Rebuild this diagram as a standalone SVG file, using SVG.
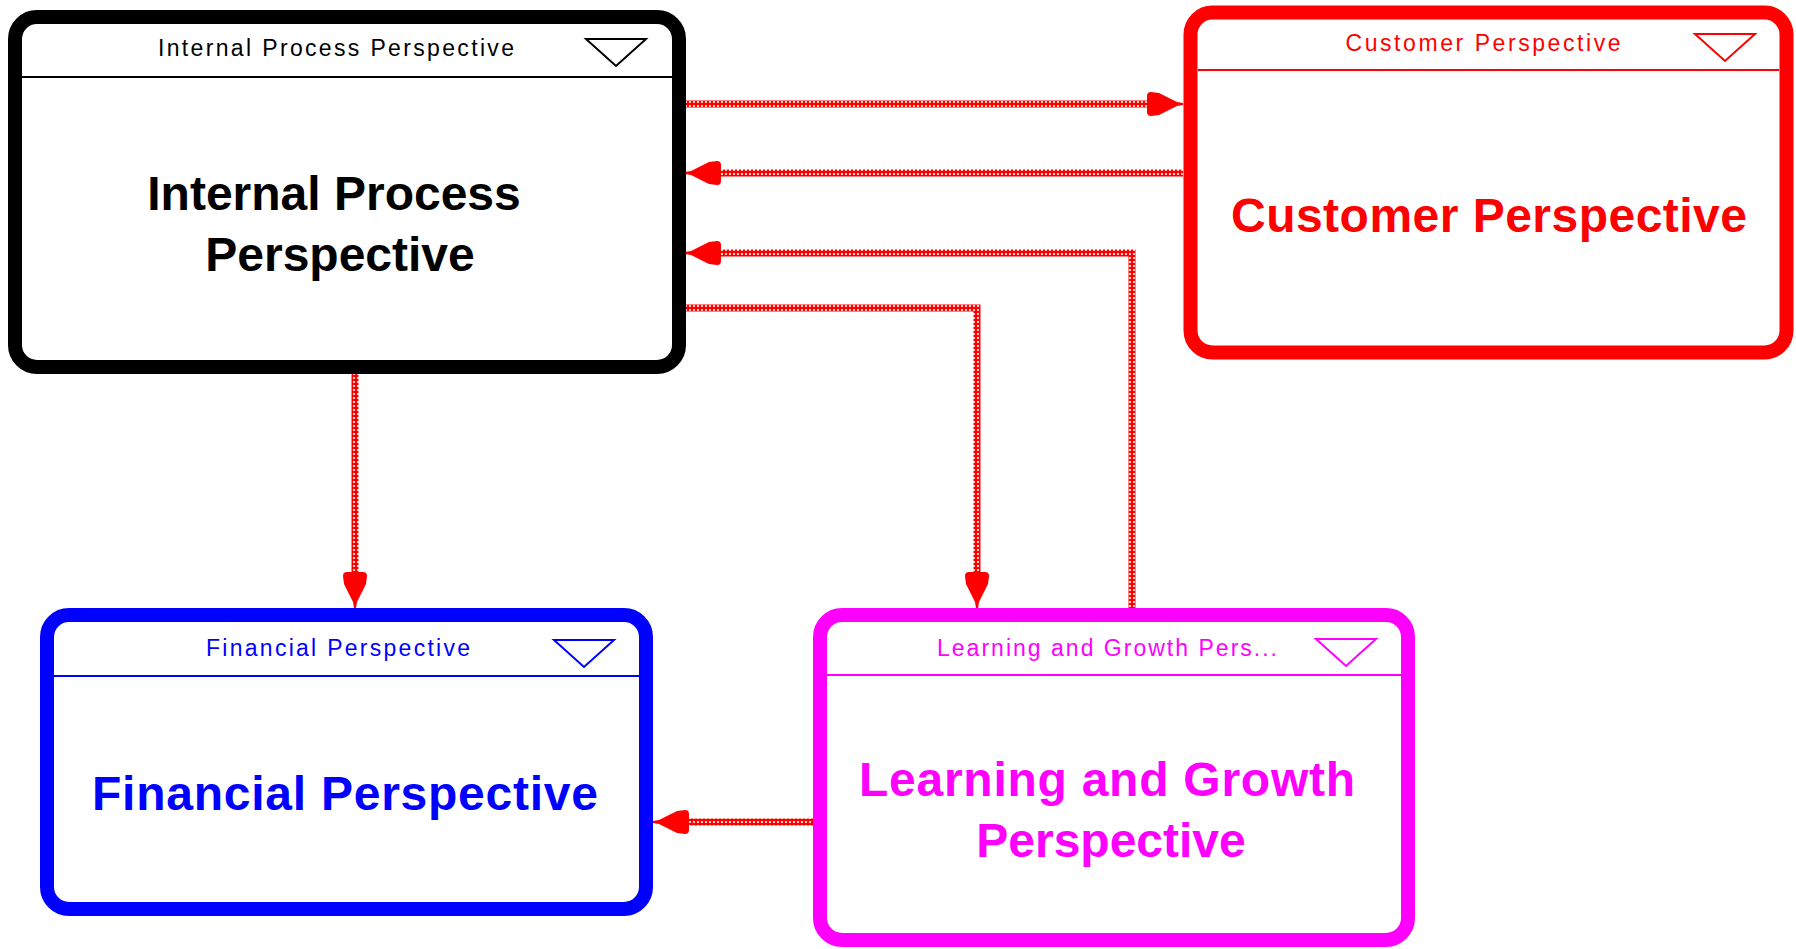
<svg xmlns="http://www.w3.org/2000/svg" width="1796" height="949" viewBox="0 0 1796 949">
<style>
  .box { fill: #ffffff; stroke-width: 14; }
  .hdr { stroke-width: 2; fill: none; }
  .tri { fill: none; stroke-width: 2; }
  .small { font-family: "Liberation Sans", Arial, sans-serif; font-size: 23px; text-anchor: middle; }
  .big { font-family: "Liberation Sans", Arial, sans-serif; font-size: 48px; font-weight: bold; text-anchor: middle; }
  .conn { fill: none; stroke: url(#dots); stroke-width: 7; }
</style>
<defs>
  <pattern id="dots" width="4" height="4" patternUnits="userSpaceOnUse">
    <rect width="4" height="4" fill="#ff0000"/>
    <rect x="1" y="1" width="2" height="2" fill="#ffd0d0"/>
  </pattern>
  <marker id="arrow" markerUnits="userSpaceOnUse" markerWidth="40" markerHeight="28" refX="0" refY="14" orient="auto" overflow="visible">
    <path d="M0,6 Q0,2 4,2 L12,3 L30,12 L36,13 L36,15 L30,16 L12,25 L4,26 Q0,26 0,22 Z" fill="#ff0000"/>
  </marker>
</defs>
<rect width="1796" height="949" fill="#ffffff"/>

<g id="connectors">
  <path class="conn" d="M685,104 L1147,104" marker-end="url(#arrow)"/>
  <path class="conn" d="M1183,173 L721,173" marker-end="url(#arrow)"/>
  <path class="conn" d="M1132,608 L1132,253 L721,253" marker-end="url(#arrow)"/>
  <path class="conn" d="M685,308 L977,308 L977,572" marker-end="url(#arrow)"/>
  <path class="conn" d="M355,373 L355,572" marker-end="url(#arrow)"/>
  <path class="conn" d="M813,822 L689,822" marker-end="url(#arrow)"/>
</g>

<g id="internal-process">
  <rect class="box" x="15" y="17" width="664" height="350" rx="22" stroke="#000000" stroke-width="12"/>
  <line class="hdr" x1="21" y1="77" x2="673" y2="77" stroke="#000000"/>
  <text class="small" x="336" y="56" fill="#000000" textLength="356" lengthAdjust="spacing">Internal Process Perspective</text>
  <polygon class="tri" points="586,39 646,39 616,66" stroke="#000000"/>
  <text class="big" x="334" y="210" fill="#000000">Internal Process</text>
  <text class="big" x="340" y="271" fill="#000000">Perspective</text>
</g>

<g id="customer">
  <rect class="box" x="1190.5" y="12.5" width="596" height="340" rx="22" stroke="#ff0000" stroke-width="15"/>
  <line class="hdr" x1="1198" y1="70" x2="1779" y2="70" stroke="#ff0000"/>
  <text class="small" x="1483" y="51" fill="#ff0000" textLength="275" lengthAdjust="spacing">Customer Perspective</text>
  <polygon class="tri" points="1695,34 1755,34 1725,61" stroke="#ff0000"/>
  <text class="big" x="1489" y="232" fill="#ff0000" textLength="516" lengthAdjust="spacing">Customer Perspective</text>
</g>

<g id="financial">
  <rect class="box" x="47" y="615" width="599" height="294" rx="22" stroke="#0000ff"/>
  <line class="hdr" x1="54" y1="676" x2="639" y2="676" stroke="#0000ff"/>
  <text class="small" x="338" y="656" fill="#0000ff" textLength="264" lengthAdjust="spacing">Financial Perspective</text>
  <polygon class="tri" points="554,640 614,640 584,667" stroke="#0000ff"/>
  <text class="big" x="345" y="810" fill="#0000ff" textLength="506" lengthAdjust="spacing">Financial Perspective</text>
</g>

<g id="learning-growth">
  <rect class="box" x="820" y="615" width="588" height="325" rx="22" stroke="#ff00ff"/>
  <line class="hdr" x1="827" y1="675" x2="1401" y2="675" stroke="#ff00ff"/>
  <text class="small" x="1107" y="656" fill="#ff00ff" textLength="340" lengthAdjust="spacing">Learning and Growth Pers...</text>
  <polygon class="tri" points="1316,639 1376,639 1346,666" stroke="#ff00ff"/>
  <text class="big" x="1107" y="796" fill="#ff00ff" textLength="496" lengthAdjust="spacing">Learning and Growth</text>
  <text class="big" x="1111" y="857" fill="#ff00ff">Perspective</text>
</g>
</svg>
